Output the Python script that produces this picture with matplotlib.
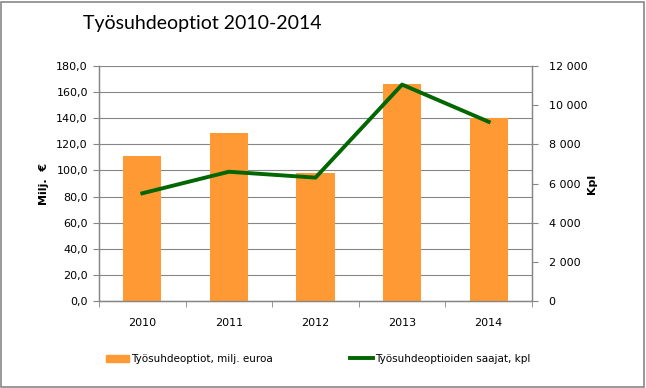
import matplotlib
matplotlib.use("Agg")
import matplotlib.pyplot as plt
from matplotlib.patches import Rectangle
from matplotlib.lines import Line2D
from matplotlib.ticker import FuncFormatter, FixedLocator

years = ["2010", "2011", "2012", "2013", "2014"]
options_meur = [111.0, 129.0, 98.0, 166.0, 140.0]
recipients = [5500, 6600, 6300, 11050, 9150]
left_ticks = [0, 20, 40, 60, 80, 100, 120, 140, 160, 180]
right_ticks = [0, 2000, 4000, 6000, 8000, 10000, 12000]

orange = "#FF9933"
green = "#006600"
gray = "#868686"

fig = plt.figure(figsize=(6.46, 3.88), dpi=100)
fig.patches.append(Rectangle((0.002, 0.003), 0.995, 0.993, transform=fig.transFigure,
                             fill=False, edgecolor="#888888", linewidth=1.2))
ax = fig.add_axes([99/646, 1-301/388, (532-99)/646, (301-66)/388])
ax2 = ax.twinx()

x = list(range(len(years)))
ax.bar(x, options_meur, width=0.44, color=orange, zorder=3)
ax.set_xlim(-0.5, len(years)-0.5)
ax.set_ylim(0, 180)
ax.yaxis.set_major_locator(FixedLocator(left_ticks))
ax.yaxis.set_major_formatter(FuncFormatter(lambda v, p: f"{v:.1f}".replace(".", ",")))
ax.grid(axis="y", color=gray, linewidth=0.8, zorder=0)
ax.set_axisbelow(True)
ax.set_xticks(x)
ax.set_xticklabels(years)
ax.set_xticks([i + 0.5 for i in range(-1, len(years))], minor=True)
ax.tick_params(axis="x", which="major", length=0, pad=12, labelsize=8)
ax.tick_params(axis="x", which="minor", length=4, color=gray, direction="out")
ax.tick_params(axis="y", length=4, color=gray, labelsize=8, pad=4)

ax2.plot(x, recipients, color=green, linewidth=2.8, zorder=4)
ax2.set_ylim(0, 12000)
ax2.yaxis.set_major_locator(FixedLocator(right_ticks))
ax2.yaxis.set_major_formatter(FuncFormatter(lambda v, p: f"{int(v):,}".replace(",", " ")))
ax2.tick_params(axis="y", length=4, color=gray, labelsize=8, pad=8)

for a in (ax, ax2):
    a.spines["top"].set_visible(False)
    for s in ("left", "right", "bottom"):
        a.spines[s].set_color(gray)
        a.spines[s].set_linewidth(0.9)

ax.set_ylabel("Milj.  €", fontsize=8, fontweight="bold", labelpad=5)
ax2.set_ylabel("Kpl", fontsize=8, fontweight="bold", rotation=90, labelpad=0)

fig.text(202/646, 1-23/388, "Työsuhdeoptiot 2010-2014", fontsize=14, family="Lato",
         ha="center", va="center")

handles = [Rectangle((0, 0), 1, 1, color=orange),
           Line2D([0], [0], color=green, linewidth=2.8)]
labels = ["Työsuhdeoptiot, milj. euroa", "Työsuhdeoptioiden saajat, kpl"]
fig.legend(handles, labels, loc="center", bbox_to_anchor=(318/646, 1-359/388), ncol=2,
           frameon=False, fontsize=7.5, columnspacing=7.4, handlelength=2.2,
           handletextpad=0.2, borderpad=0, borderaxespad=0)

fig.savefig("out.png", dpi=100)
